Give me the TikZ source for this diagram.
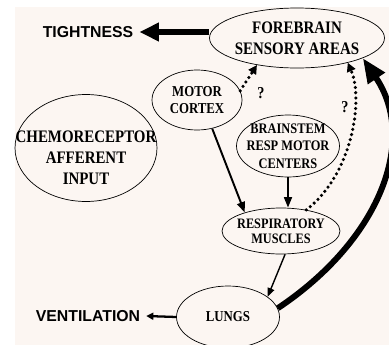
\documentclass[tikz,border=0pt]{standalone}
\usepackage{fontspec}
\setmainfont{Liberation Serif}[FakeStretch=0.85]
\setsansfont{Liberation Sans}
\usepackage{tikz}
\usepackage{xcolor}
\usetikzlibrary{arrows.meta,shapes.geometric}
\definecolor{fondo}{HTML}{FCF6F2}

\begin{document}
\begin{tikzpicture}[x=0.02cm, y=-0.02cm,
			 area/.style={ellipse, draw, thin, inner sep=0pt},
			 texto/.style={align=center, inner sep=0pt, font=\bfseries\fontsize{8.6}{10}\selectfont},
			 salida/.style={font=\sffamily\bfseries\fontsize{9}{9}\selectfont},
			 flecha/.style={-{Triangle[length=6pt,width=4.5pt]}, line width=1.1pt},
			 punteada/.style={-{Triangle[length=5pt,width=5pt,line cap=butt]}, line width=2pt, line cap=round, dash pattern=on 0pt off 3pt}
  		]

	%Fondo
		\fill[white] (0,0) rectangle (389,345);
		\fill[fondo] (15,7) rectangle (389,345);
		\useasboundingbox (0,0) rectangle (389,345);

	%Creamos las areas
		\node[area, minimum width=3.5cm, minimum height=1.2cm,
			label={[texto, font=\bfseries\fontsize{10}{12}\selectfont]center:FOREBRAIN\\SENSORY AREAS}] (fore) at (297,38) {};
		\node[area, minimum width=1.8cm, minimum height=1.2cm,
			label={[texto]center:MOTOR\\CORTEX}] (motor) at (197,100) {};
		\node[area, minimum width=2.84cm, minimum height=2.14cm,
			label={[texto, font=\bfseries\fontsize{10}{12}\selectfont, yshift=-0.2cm]center:CHEMORECEPTOR\\AFFERENT\\INPUT}] (chemo) at (86,148) {};
		\node[area, minimum width=2.06cm, minimum height=1.24cm,
			label={[texto, font=\bfseries\fontsize{8.3}{9.9}\selectfont]center:BRAINSTEM\\RESP MOTOR\\CENTERS}] (brain) at (288,146) {};
		\node[area, minimum width=2.36cm, minimum height=0.92cm,
			label={[texto, font=\bfseries\fontsize{8.2}{8.5}\selectfont]center:RESPIRATORY\\MUSCLES}] (musc) at (281,231) {};
		\node[area, minimum width=2.06cm, minimum height=1.24cm,
			label={[texto]center:LUNGS}] (lungs) at (228,317) {};
		\node[salida] (tight) at (88,32) {TIGHTNESS};
		\node[salida] (vent) at (88,316) {VENTILATION};

	%Salidas
		\draw[-{Triangle[length=11pt,width=10pt]}, line width=3.8pt] (fore.west |- tight) -- (tight.east);
		\draw[-{Triangle[length=4pt,width=4pt]}, line width=1.3pt] (lungs.west) -- (vent.east);

	%Flechas entre areas
		\draw[flecha] (motor.-62) -- (musc.153);
		\draw[flecha] (brain.south) -- (brain.south |- musc.north);
		\draw[-{Triangle[length=5pt,width=4pt]}, line width=0.8pt] (musc.-80) -- (lungs.27);
		\draw[-{Triangle[length=14pt,width=11pt]}, line width=3.4pt] (lungs.10) .. controls (380,240) and (418,140) .. (fore.-17);

	%Flechas dudosas
		\draw[punteada] (motor.12) -- (fore.-146);
		\draw[punteada] (musc.40) .. controls (352,175) and (364,100) .. (fore.-26);
		\node[font=\bfseries\fontsize{9.5}{9.5}\selectfont] (q1) at (261,93) {?};
		\node[font=\bfseries\fontsize{9.5}{9.5}\selectfont] (q2) at (345,107) {?};

\end{tikzpicture}
\end{document}
